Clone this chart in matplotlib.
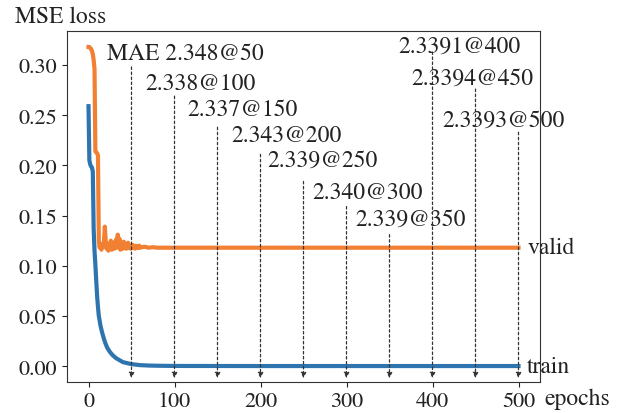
import matplotlib
matplotlib.use('Agg')
import matplotlib.pyplot as plt

plt.rcParams['font.family'] = ['STIXGeneral', 'Liberation Serif', 'DejaVu Serif']
plt.rcParams['mathtext.fontset'] = 'stix'

# training loss (sampled epochs, flat after ~80)
train_epochs = [0, 1, 2, 3, 4, 5, 6, 7, 8, 9, 10, 11, 12, 14, 16, 18, 20, 22, 25, 28,
                32, 36, 40, 45, 50, 60, 70, 80, 100, 200, 300, 400, 500]
train_loss = [0.259, 0.205, 0.201, 0.199, 0.198, 0.194, 0.137, 0.115, 0.101, 0.085,
              0.070, 0.059, 0.050, 0.040, 0.033, 0.027, 0.022, 0.018, 0.014, 0.011,
              0.008, 0.006, 0.004, 0.003, 0.002, 0.001, 0.0006, 0.0004, 0.0002,
              0.0001, 0.0001, 0.0001, 0.0001]

# validation loss
valid_epochs = list(range(0, 61)) + [65, 70, 75, 80, 90, 100, 200, 300, 400, 500]
valid_loss = [0.318, 0.318, 0.317, 0.316, 0.314, 0.311, 0.305, 0.296, 0.214, 0.213,
              0.212, 0.210, 0.125, 0.118, 0.122, 0.116, 0.121, 0.119, 0.124, 0.139,
              0.125, 0.117, 0.121, 0.115, 0.122, 0.119, 0.125, 0.116, 0.120, 0.123,
              0.117, 0.121, 0.126, 0.118, 0.131, 0.121, 0.127, 0.116, 0.120, 0.122,
              0.117, 0.124, 0.119, 0.121, 0.117, 0.120, 0.123, 0.118, 0.120, 0.117,
              0.119, 0.121, 0.118, 0.119, 0.117, 0.120, 0.118, 0.119, 0.118, 0.120,
              0.118, 0.119, 0.118, 0.1185, 0.118, 0.118, 0.118, 0.118, 0.118, 0.118,
              0.118]

# MAE checkpoints
mae_epochs = [50, 100, 150, 200, 250, 300, 350, 400, 450, 500]
mae_values = ['2.348', '2.338', '2.337', '2.343', '2.339', '2.340', '2.339',
              '2.3391', '2.3394', '2.3393']

# layout of the annotation texts / arrow starts (data coords)
label_x = [22, 66, 115, 166, 208, 260, 310, 360, 376, 412]
label_y = [0.306, 0.276, 0.250, 0.224, 0.200, 0.168, 0.141, 0.313, 0.281, 0.240]
arrow_top = [0.298, 0.269, 0.238, 0.211, 0.184, 0.159, 0.131, 0.313, 0.276, 0.233]

fig = plt.figure(figsize=(6.36, 4.14), dpi=100)
ax = fig.add_axes([67 / 636, 1 - 383 / 414, 473 / 636, 351 / 414])

ax.plot(train_epochs, train_loss, color='#2e75b0', lw=3)
ax.plot(valid_epochs, valid_loss, color='#f28033', lw=3)

for i, ep in enumerate(mae_epochs):
    ax.annotate('', xy=(ep, -0.012), xytext=(ep, arrow_top[i]),
                arrowprops=dict(arrowstyle='-|>', color='#333333', lw=0.9,
                                linestyle=(0, (2, 2)), shrinkA=0, shrinkB=0,
                                mutation_scale=8))
    txt = mae_values[i] + '@' + str(ep)
    if i == 0:
        txt = 'MAE ' + txt
    ax.text(label_x[i], label_y[i], txt, fontsize=17, ha='left', va='baseline',
            color='#222222')

ax.text(510, valid_loss[-1], 'valid', fontsize=17, va='center', ha='left', color='#222222')
ax.text(510, train_loss[-1], 'train', fontsize=17, va='center', ha='left', color='#222222')

ax.set_xticks([0, 100, 200, 300, 400, 500])
ax.set_yticks([0.00, 0.05, 0.10, 0.15, 0.20, 0.25, 0.30])
ax.tick_params(labelsize=16, colors='#222222')
for s in ax.spines.values():
    s.set_color('#333333')

ax.text(1.01, -0.045, 'epochs', transform=ax.transAxes, fontsize=17,
        ha='left', va='center', color='#222222')
ax.text(-0.11, 1.026, 'MSE loss', transform=ax.transAxes, fontsize=17,
        ha='left', va='baseline', color='#222222')

fig.savefig('out.png', dpi=100)
